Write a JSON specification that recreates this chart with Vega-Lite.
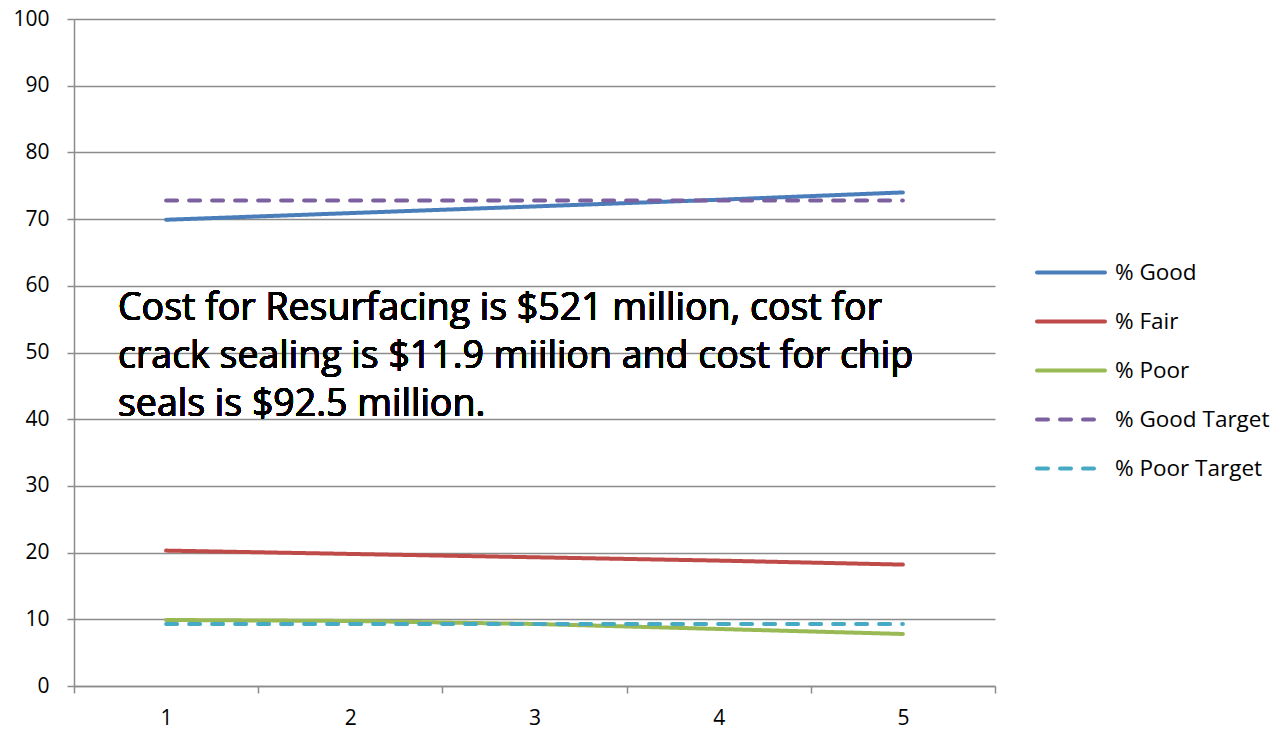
{
  "$schema": "https://vega.github.io/schema/vega-lite/v6.json",
  "autosize": "none",
  "width": 921,
  "height": 667,
  "padding": {"left": 74, "top": 19, "right": 283, "bottom": 44},
  "background": "white",
  "config": {"view": {"stroke": null}, "font": "Open Sans"},
  "data": {"values": [
    {"x": "1", "series": "% Good", "value": 69.9},
    {"x": "2", "series": "% Good", "value": 70.9},
    {"x": "3", "series": "% Good", "value": 71.9},
    {"x": "4", "series": "% Good", "value": 72.9},
    {"x": "5", "series": "% Good", "value": 74.0},
    {"x": "1", "series": "% Fair", "value": 20.3},
    {"x": "2", "series": "% Fair", "value": 19.8},
    {"x": "3", "series": "% Fair", "value": 19.3},
    {"x": "4", "series": "% Fair", "value": 18.8},
    {"x": "5", "series": "% Fair", "value": 18.2},
    {"x": "1", "series": "% Poor", "value": 9.9},
    {"x": "2", "series": "% Poor", "value": 9.75},
    {"x": "3", "series": "% Poor", "value": 9.3},
    {"x": "4", "series": "% Poor", "value": 8.55},
    {"x": "5", "series": "% Poor", "value": 7.8},
    {"x": "1", "series": "% Good Target", "value": 72.8},
    {"x": "2", "series": "% Good Target", "value": 72.8},
    {"x": "3", "series": "% Good Target", "value": 72.8},
    {"x": "4", "series": "% Good Target", "value": 72.8},
    {"x": "5", "series": "% Good Target", "value": 72.8},
    {"x": "1", "series": "% Poor Target", "value": 9.3},
    {"x": "2", "series": "% Poor Target", "value": 9.3},
    {"x": "3", "series": "% Poor Target", "value": 9.3},
    {"x": "4", "series": "% Poor Target", "value": 9.3},
    {"x": "5", "series": "% Poor Target", "value": 9.3}
  ]},
  "layer": [
    {
      "mark": {"type": "line", "strokeWidth": 4, "strokeCap": "round", "strokeJoin": "round"},
      "encoding": {
        "x": {
          "field": "x", "type": "ordinal",
          "scale": {"type": "band", "paddingInner": 0, "paddingOuter": 0},
          "axis": {
            "title": null, "labelAngle": 0, "tickBand": "extent",
            "domainColor": "#8c8c8c", "domainWidth": 1.5,
            "tickColor": "#8c8c8c", "tickWidth": 1.5, "tickSize": 7,
            "labelFontSize": 21, "labelColor": "#000000", "labelPadding": 14,
            "labelFont": "Open Sans", "grid": false
          }
        },
        "y": {
          "field": "value", "type": "quantitative",
          "scale": {"domain": [0, 100], "nice": false, "zero": true},
          "axis": {
            "title": null, "values": [0,10,20,30,40,50,60,70,80,90,100],
            "domainColor": "#8c8c8c", "domainWidth": 1.5,
            "tickColor": "#8c8c8c", "tickWidth": 1.5, "tickSize": 7,
            "gridColor": "#8c8c8c", "gridWidth": 1.5,
            "labelFontSize": 21, "labelColor": "#000000", "labelPadding": 18,
            "labelFont": "Open Sans"
          }
        },
        "color": {
          "field": "series", "type": "nominal",
          "scale": {
            "domain": ["% Good", "% Fair", "% Poor", "% Good Target", "% Poor Target"],
            "range": ["#4A7EBB", "#BE4B48", "#98B954", "#7D60A0", "#46AAC5"]
          },
          "legend": {
            "title": null, "orient": "none", "legendX": 961, "legendY": 229,
            "symbolType": "stroke", "symbolSize": 4624, "symbolStrokeWidth": 4,
            "labelFontSize": 22.5, "labelFont": "Open Sans", "labelColor": "#000000",
            "labelOffset": 8, "clipHeight": 49, "rowPadding": 0, "padding": 0,
            "encode": {"symbols": {"update": {"strokeCap": {"value": "round"}}}}
          }
        },
        "strokeDash": {
          "field": "series", "type": "nominal",
          "scale": {
            "domain": ["% Good", "% Fair", "% Poor", "% Good Target", "% Poor Target"],
            "range": [[1, 0], [1, 0], [1, 0], [11, 12], [11, 12]]
          },
          "legend": {
            "title": null, "orient": "none", "legendX": 961, "legendY": 229,
            "symbolType": "stroke", "symbolSize": 4624, "symbolStrokeWidth": 4,
            "labelFontSize": 22.5, "labelFont": "Open Sans", "labelColor": "#000000",
            "labelOffset": 8, "clipHeight": 49, "rowPadding": 0, "padding": 0,
            "encode": {"symbols": {"update": {"strokeCap": {"value": "round"}}}}
          }
        }
      }
    },
    {
      "mark": {
        "type": "text", "align": "left", "baseline": "alphabetic",
        "fontSize": 37.5, "font": "Open Sans", "color": "#000000", "lineHeight": 48,
        "dx": 44
      },
      "encoding": {
        "x": {"datum": "1", "type": "ordinal", "bandPosition": 0},
        "y": {"datum": 54.8, "type": "quantitative"},
        "text": {"value": ["Cost for Resurfacing is $521 million, cost for", "crack sealing is $11.9 miilion and cost for chip", "seals is $92.5 million."]}
      }
    }
  ]
}
